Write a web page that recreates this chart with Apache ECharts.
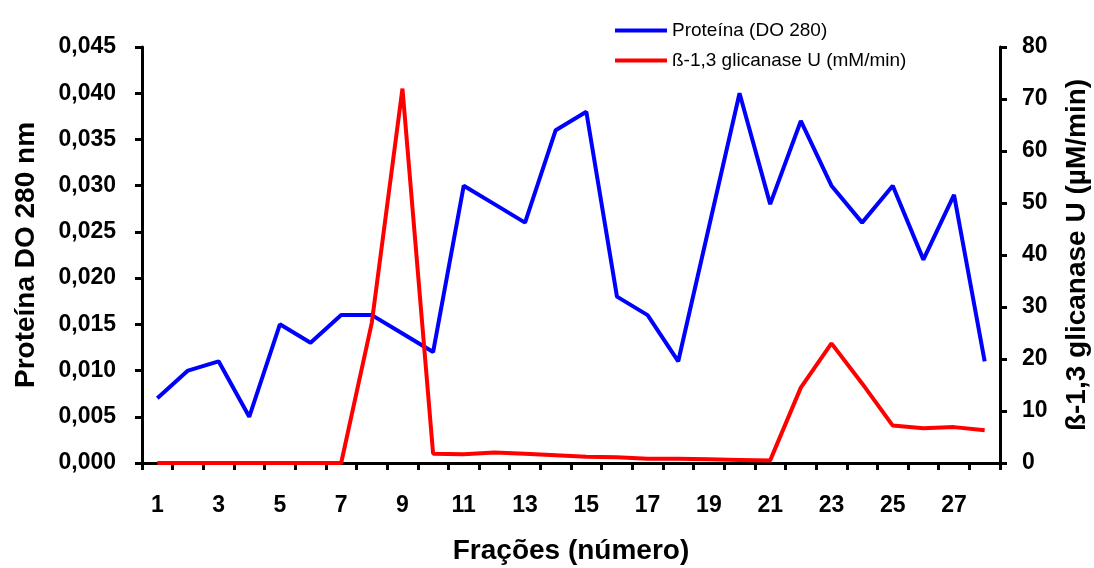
<!DOCTYPE html>
<html>
<head>
<meta charset="utf-8">
<script src="https://cdn.jsdelivr.net/npm/echarts@6/dist/echarts.min.js"></script>
<style>
  html, body { margin: 0; padding: 0; background: #fff; }
  #chart { width: 1094px; height: 568px; }
</style>
</head>
<body>
<div id="chart"></div>
<script>
// frações 1..28
const fracoes = ['1','2','3','4','5','6','7','8','9','10','11','12','13','14',
  '15','16','17','18','19','20','21','22','23','24','25','26','27','28']

// proteína (DO 280 nm), eixo esquerdo
const proteina = [0.007, 0.010, 0.011, 0.005, 0.015, 0.013, 0.016, 0.016, 0.014, 0.012,
  0.030, 0.028, 0.026, 0.036, 0.038, 0.018, 0.016, 0.011, 0.0255, 0.040,
  0.028, 0.037, 0.030, 0.026, 0.030, 0.022, 0.029, 0.011]

// ß-1,3 glicanase (µM/min), eixo direito
const glicanase = [0, 0, 0, 0, 0, 0, 0, 27, 72, 1.8,
  1.7, 2.0, 1.8, 1.5, 1.2, 1.1, 0.8, 0.8, 0.7, 0.6,
  0.5, 14.5, 23, 15.3, 7.2, 6.7, 6.9, 6.3]

const chart = echarts.init(document.getElementById('chart'))

const font = 'Liberation Sans, Arial, sans-serif'
const axisLine = { show: true, lineStyle: { color: '#000', width: 3 } }
const axisTick = { show: true, length: 7, lineStyle: { color: '#000', width: 3 } }
const labelStyle = { color: '#000', fontSize: 23, fontWeight: 'bold', fontFamily: font }
const nameStyle = { color: '#000', fontSize: 28, fontWeight: 'bold', fontFamily: font }

chart.setOption({
  backgroundColor: '#fff',
  animation: false,
  grid: { left: 142, right: 94, top: 47, bottom: 105, containLabel: false, outerBoundsMode: 'none' },
  legend: {
    orient: 'vertical',
    left: 610,
    top: 16,
    itemWidth: 52,
    itemHeight: 4,
    itemGap: 11,
    icon: 'rect',
    textStyle: { color: '#000', fontSize: 19, fontFamily: font },
    data: ['Proteína (DO 280)', 'ß-1,3 glicanase U (mM/min)']
  },
  xAxis: {
    type: 'category',
    data: fracoes,
    boundaryGap: true,
    name: 'Frações (número)',
    nameLocation: 'middle',
    nameGap: 74,
    nameTextStyle: nameStyle,
    axisLine: axisLine,
    axisTick: { ...axisTick, interval: 0 },
    axisLabel: { ...labelStyle, interval: 1, margin: 31 },
    splitLine: { show: false }
  },
  yAxis: [
    {
      type: 'value',
      min: 0,
      max: 0.045,
      interval: 0.005,
      name: 'Proteína DO 280 nm',
      nameLocation: 'middle',
      nameGap: 102,
      nameTextStyle: nameStyle,
      axisLine: axisLine,
      axisTick: axisTick,
      axisLabel: { ...labelStyle, margin: 26, formatter: v => v.toFixed(3).replace('.', ',') },
      splitLine: { show: false }
    },
    {
      type: 'value',
      min: 0,
      max: 80,
      interval: 10,
      position: 'right',
      name: 'ß-1,3 glicanase U (µM/min)',
      nameLocation: 'middle',
      nameGap: 63,
      nameRotate: 90,
      nameTextStyle: nameStyle,
      axisLine: axisLine,
      axisTick: axisTick,
      axisLabel: { ...labelStyle, margin: 22 },
      splitLine: { show: false }
    }
  ],
  series: [
    {
      name: 'Proteína (DO 280)',
      type: 'line',
      yAxisIndex: 0,
      data: proteina,
      symbol: 'none',
      color: '#0000ff',
      lineStyle: { color: '#0000ff', width: 4 }
    },
    {
      name: 'ß-1,3 glicanase U (mM/min)',
      type: 'line',
      yAxisIndex: 1,
      data: glicanase,
      symbol: 'none',
      color: '#ff0000',
      lineStyle: { color: '#ff0000', width: 4 }
    }
  ]
})
</script>
</body>
</html>
